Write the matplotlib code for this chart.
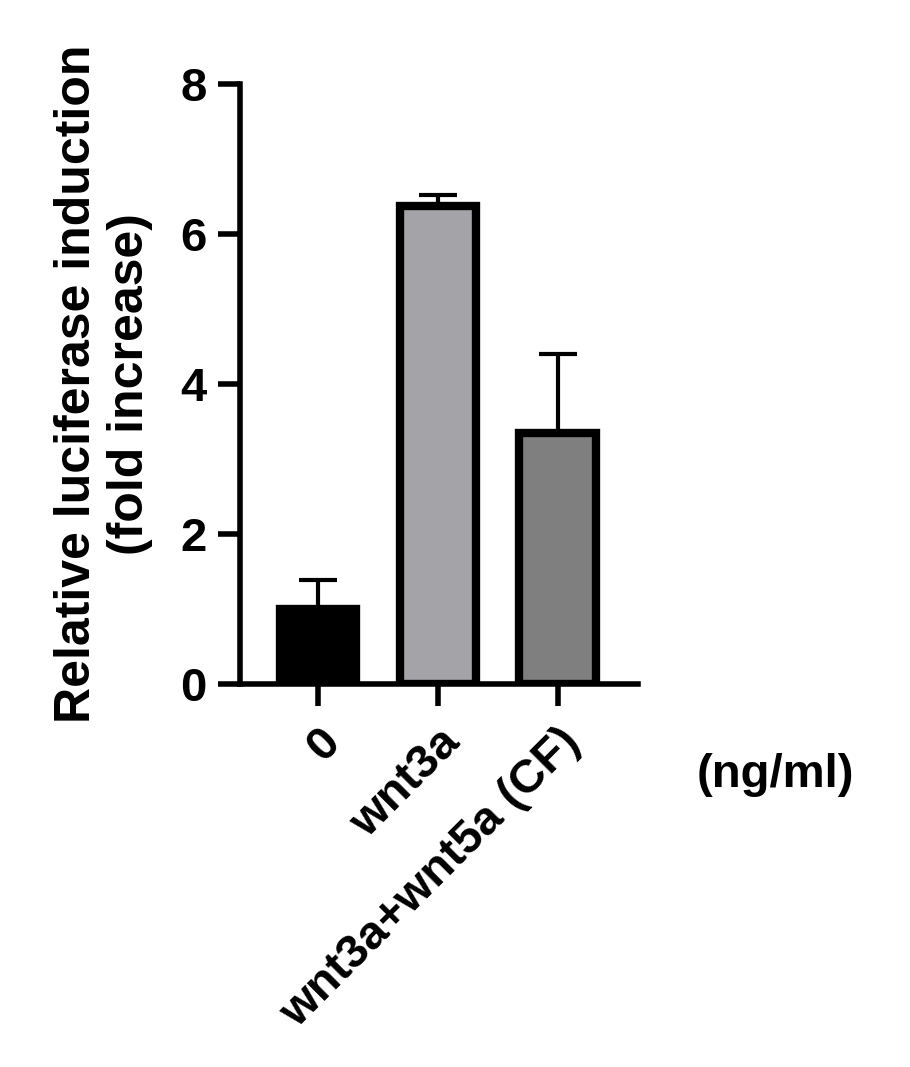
import matplotlib
matplotlib.use("Agg")
import matplotlib.pyplot as plt

categories = ["0", "wnt3a", "wnt3a+wnt5a (CF)"]
values = [1.0, 6.37, 3.35]
errors = [0.39, 0.15, 1.05]
colors = ["#000000", "#a3a3a8", "#7f7f7f"]

plt.rcParams['font.family'] = ['Liberation Sans', 'DejaVu Sans']
plt.rcParams['font.weight'] = 'bold'
fig = plt.figure(figsize=(9.1, 10.67), dpi=100)
ax = fig.add_axes([0.264, 0.359, 0.437, 0.562])
x = range(len(categories))
ax.bar(x, values, width=0.64, color=colors, edgecolor="black", linewidth=6, zorder=2)
for xi, v, e in zip(x, values, errors):
    ax.errorbar([xi], [v], yerr=[[0], [e]], fmt='none', ecolor='black', elinewidth=3,
                capsize=14, capthick=3, zorder=1)
ax.set_xlim(-0.65, 2.67)
ax.set_ylim(0, 8)
ax.set_yticks([0, 2, 4, 6, 8])
ax.set_xticks(list(x))
ax.set_xticklabels(categories, rotation=45, ha='right', rotation_mode='anchor', fontsize=34, fontweight='bold')
ax.tick_params(axis='y', labelsize=34, width=4, length=16, pad=8)
ax.tick_params(axis='x', width=4, length=16, pad=10)
for lbl in ax.get_yticklabels():
    lbl.set_fontweight('bold')
for s in ['top', 'right']:
    ax.spines[s].set_visible(False)
for s in ['left', 'bottom']:
    ax.spines[s].set_linewidth(4)
ax.set_ylabel("Relative luciferase induction\n(fold increase)", fontsize=36, fontweight='bold', labelpad=20, linespacing=1.2)
fig.text(0.765, 0.262, "(ng/ml)", fontsize=34, fontweight='bold')
fig.savefig("out.png", dpi=100)
